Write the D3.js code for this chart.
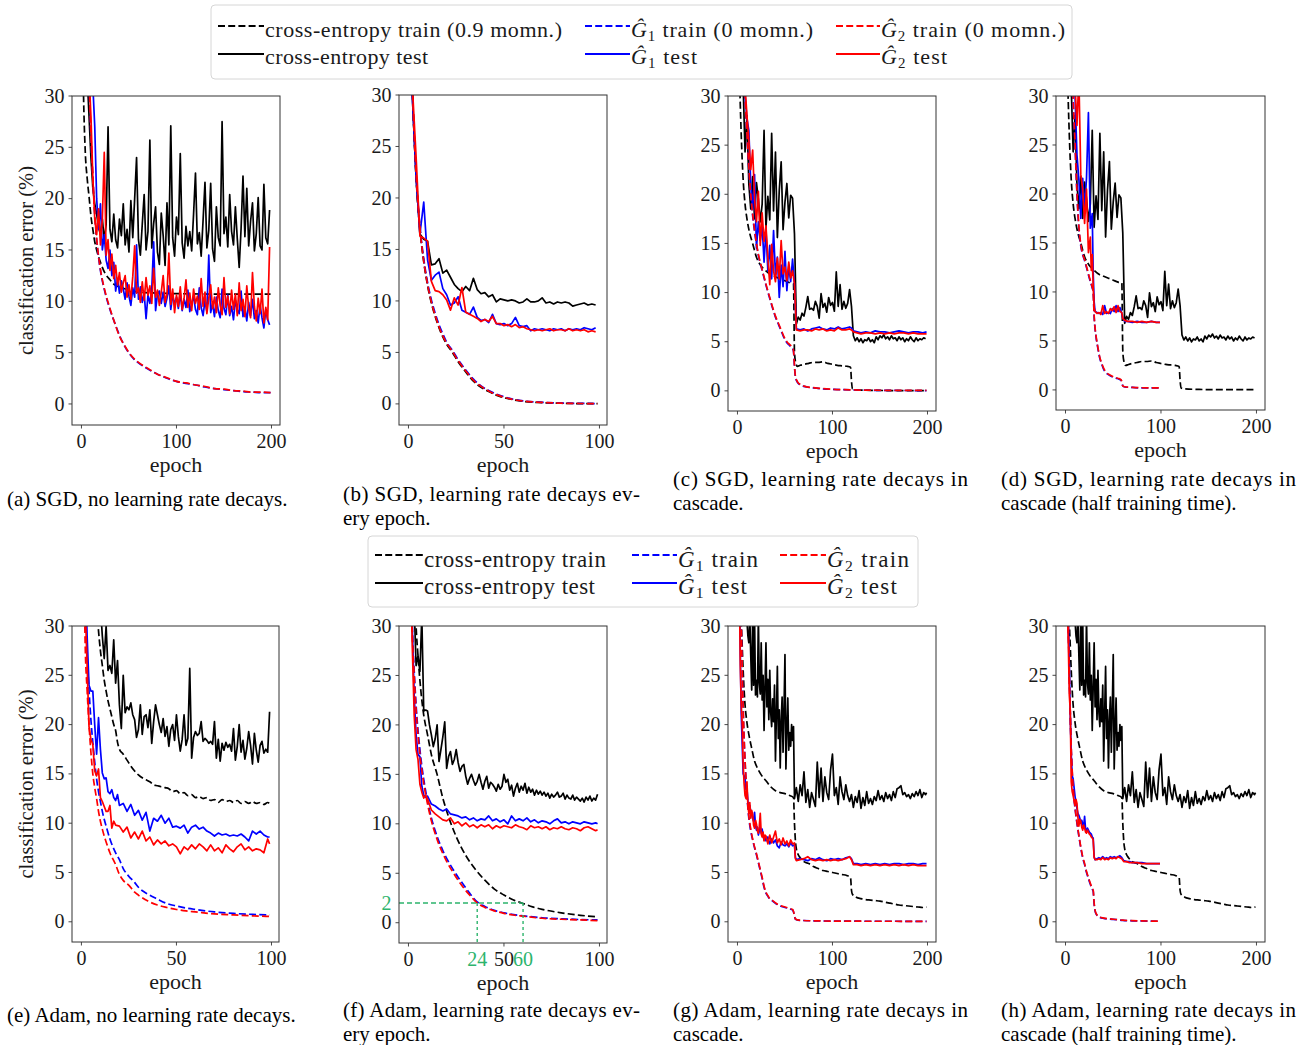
<!DOCTYPE html>
<html><head><meta charset="utf-8">
<script src="https://cdn.jsdelivr.net/npm/d3@7"></script>
<style>
body{margin:0;background:#fff}
svg text{font-family:"Liberation Serif","Times New Roman",serif}
</style></head><body>
<svg id="fig" width="1300" height="1045"></svg>
<script>
// epoch = index*2 for the densely read series
const every2 = vals => vals.map((v, i) => [i * 2, v]);

const YTICKS = [0, 5, 10, 15, 20, 25, 30];
const XTICKS_200 = [0, 100, 200];
const XTICKS_100 = [0, 50, 100];
const LEG1 = ['cross-entropy train (0.9 momn.)', 'cross-entropy test', ' train (0 momn.)', ' test'];
const LEG2 = ['cross-entropy train', 'cross-entropy test', ' train', ' test'];

// (a) SGD, no decay
const aCeTrain = [[0,45],[2,31],[4,24.6],[6,22],[8,20.2],[10,18.3],[12,17],[14,15.8],[16,15],[20,13.8],[25,12.7],[30,12.1],[35,11.6],[40,11.4],[50,11.1],[60,10.9],[80,10.8],[100,10.75],[150,10.7],[199,10.7]];
const aCeTest = every2([45,40,36,32,28, 24,21,19.5,18.5,17.2, 16.5,18,16,17.5,27, 17,15.8,18.5,16,15.2,
  18,16.4,19.5,15.5,17, 14.8,19.8,16.2,20,24, 16,14.5,17.5,20.4,15, 16.8,25.7,15.2,17.6,19.2,
  14.8,13.6,18.6,16.4,13.5, 19.6,15.5,27.1,16.2,14.4, 18.2,16.5,24.4,15.7,14.2, 17.3,15.4,16.8,14.9,18.5,
  22.5,15.6,16.7,14.4,17.9, 21.6,15.2,16.9,21.5,15.1, 13.9,19.2,16.2,15.4,27.5, 16.6,18.2,15.3,20.4,16.8,
  15.5,19.2,16.1,13.3,17.1, 22.2,16.3,21,15.4,17.8, 19.6,14.9,16.6,20.1,15.4, 15,21.4,16.2,15.6,18.9]);
const aG1Train = [[6,45],[8,32],[10,26],[12,22],[14,18.5],[16,16],[18,14.3],[20,13],[25,10.8],[30,9.2],[35,7.9],[40,6.7],[45,5.7],[50,4.95],[55,4.4],[60,4.0],[70,3.4],[80,2.9],[90,2.5],[100,2.2],[110,2.0],[120,1.85],[130,1.65],[140,1.5],[150,1.4],[160,1.3],[170,1.2],[180,1.15],[190,1.1],[199,1.1]];
const aG1Test = every2([60,55,50,45,40, 35,31,27,20,17, 19.5,15,16.5,14,13.2, 15,12.5,13.8,11,12.2,
  10.8,12,11.2,10.2,11.8, 10.5,9.6,11.3,10.4,15.5, 10.2,11.4,9.9,10.8,8.3, 10.6,9.8,11.2,15.8,9.1,
  10.7,11,9.8,10.9,9.5, 10.3,11.5,9.2,10.6,9.7, 10.4,9.3,10.8,9.1,10.2, 9.4,11.1,9.0,9.8,10.5,
  9.2,8.7,11.3,9.4,8.6, 10.1,9.0,14.5,8.9,9.8, 8.5,10.4,9.1,8.4,11.2, 9.3,8.7,10.6,8.6,9.5,
  8.2,10.1,9.2,8.8,11, 8.5,9.4,8.1,9.9,8.6, 10.2,8.3,9.1,7.9,9.6, 8.4,7.4,9.2,8.2,7.7]);
const aG2Train = [[6,45],[8,32.3],[10,26.2],[12,22.1],[14,18.6],[16,16.1],[18,14.4],[20,13.1],[25,10.9],[30,9.3],[35,7.9],[40,6.6],[45,5.75],[50,5.0],[55,4.45],[60,4.05],[70,3.45],[80,2.9],[90,2.55],[100,2.2],[110,2.05],[120,1.85],[130,1.7],[140,1.5],[150,1.45],[160,1.3],[170,1.25],[180,1.15],[190,1.15],[199,1.1]];
const aG2Test = every2([55,48,42,37,32, 28,22,18,16.5,19, 15.5,18,24.5,14.5,16, 13,14.6,12.2,13.5,11.6,
  12.8,10.9,11.8,12.5,10.4, 11.6,10.2,12.4,15.4,10.8, 11.3,9.9,11.9,10.1,12.3, 10.6,11.5,9.8,13.2,10.4,
  11.1,9.6,10.9,12.5,9.9, 10.7,14.7,9.7,11.2,8.9, 10.6,9.5,11.4,9.2,10.3, 12.1,9.4,10.8,9.1,11.2,
  9.8,10.5,9.2,12.2,9.5, 10.9,8.8,10.3,11.6,9.3, 10.4,8.9,11.3,9.6,8.7, 12.3,9.4,10.5,8.8,11.1,
  9.2,10.7,8.6,11.8,9.1, 10.2,8.5,11.5,9.3,8.4, 12.8,9.5,8.1,10.3,8.8, 11.2,7.9,9.4,8.2,15.3]);

// (b) SGD, decay every epoch
const bCeTrain = [[0,45],[2,31],[4,22],[6,17],[8,13.8],[10,11.5],[12,9.8],[14,8.5],[16,7.4],[18,6.5],[20,5.8],[23,5.0],[26,4.1],[30,3.1],[34,2.2],[38,1.6],[42,1.2],[46,0.85],[50,0.6],[55,0.4],[60,0.25],[70,0.12],[80,0.06],[90,0.03],[99,0.02]];
const bCeTest = every2([45,30,22,16.5,16, 15.8,13.5,13.6,14.1,12.7, 13,12.3,11.6,11.2,10.9, 11.4,11,12.2,11.1,10.7,
  10.8,10.4,10.6,9.9,10.2, 10.1,10.0,10.1,10.0,9.8, 9.9,10.2,9.9,9.9,10.0, 10.3,9.8,9.9,9.7,9.9,
  9.8,9.9,9.8,9.5,9.6, 9.7,9.8,9.6,9.7,9.6]);
const bG1Train = [[0,45],[2,31],[4,22.5],[6,17.3],[8,14.1],[10,11.8],[12,10.1],[14,8.8],[16,7.7],[18,6.8],[20,6.0],[23,5.2],[26,4.3],[30,3.3],[34,2.4],[38,1.75],[42,1.3],[46,0.95],[50,0.7],[55,0.45],[60,0.3],[70,0.15],[80,0.08],[90,0.05],[99,0.03]];
const bG1Test = every2([45,30,22,16.5,19.6, 14,12,12.5,12.8,11.2, 10.6,9.6,9.8,10.4,9.1, 8.9,8.7,9.4,8.4,8.1,
  8.2,7.9,8.7,7.8,7.7, 7.8,7.6,7.8,8.4,7.6, 7.5,7.6,7.1,7.3,7.2, 7.3,7.2,7.1,7.3,7.2,
  7.3,7.1,7.3,7.2,7.3, 7.2,7.4,7.3,7.2,7.4]);
const bG2Train = [[0,45],[2,31],[4,22.3],[6,17.1],[8,13.9],[10,11.6],[12,9.9],[14,8.6],[16,7.5],[18,6.6],[20,5.9],[23,5.1],[26,4.2],[30,3.2],[34,2.3],[38,1.7],[42,1.25],[46,0.9],[50,0.65],[55,0.42],[60,0.28],[70,0.14],[80,0.07],[90,0.04],[99,0.03]];
const bG2Test = every2([45,31,24,16.3,16.1, 15.8,11.9,11,10.9,10.6, 10.1,9.1,10.3,9.6,11.3, 8.9,8.7,8.5,8.3,8,
  8.2,8,8.5,7.8,7.8, 7.6,7.7,7.5,7.7,7.4, 7.5,7.3,7.2,7.1,7.2, 7.1,7.2,7.3,7.1,7.2,
  7.2,7.1,7.3,7.1,7.2, 7.1,7.2,7.0,7.1,7.0]);

// (c)/(d) SGD cascade: the cross-entropy runs are the same in both panels
const cdCeTrain = [[0,45],[2,33],[4,26],[6,21.5],[8,19],[10,17.5],[13,16],[16,15],[20,13.6],[25,12.7],[30,12.2],[35,11.8],[40,11.6],[45,11.4],[50,11.2],[55,11.0],[59,10.9],[60,4.0],[61,3.0],[63,2.5],[66,2.6],[70,2.7],[75,2.8],[80,2.9],[85,2.9],[90,2.95],[95,2.8],[100,2.7],[105,2.6],[110,2.55],[115,2.5],[119,2.4],[120,1.0],[121,0.2],[125,0.1],[140,0.05],[160,0.03],[199,0.02]];
const cdCeTest = every2([50,42,36,31,24.3, 28,21,18.5,21.8,17.5, 21.2,19.5,17.2,19,26.5, 16.6,19.8,17.4,26.2,18.3,
  24.3,15.6,20.4,23.3,16.4, 19.2,21.1,17.6,19.9,19.6, 16,6.8,7.5,7.2,7.9, 7.6,8.5,9.6,8.3,8.4,
  8.2,9.1,8.6,7.4,9.9, 8.5,8.9,8.0,9.5,8.7, 9.0,8.1,12.1,8.6,10.8, 8.3,9.1,8.4,8.9,10.3,
  8.6,5.6,5.1,5.4,5.0, 5.3,4.9,5.2,5.1,5.4, 5.0,5.2,4.9,5.5,5.2, 5.6,5.4,5.7,5.3,5.5,
  5.2,5.6,5.3,5.4,5.1, 5.5,5.2,5.4,5.0,5.3, 5.1,5.5,5.2,5.0,5.4, 5.1,5.3,5.2,5.4,5.3]);
const cG1Train = [[4,45],[6,36],[8,30],[10,26],[12,22.5],[14,19.8],[16,17.8],[18,16.2],[20,14.9],[22,13.8],[25,12.6],[28,11.5],[31,10.4],[34,9.4],[37,8.4],[40,7.5],[43,6.8],[46,6.1],[49,5.4],[52,4.9],[55,4.6],[58,4.3],[59,4.0],[60,2.5],[61,1.4],[63,0.9],[66,0.6],[70,0.45],[80,0.3],[90,0.2],[100,0.15],[120,0.1],[150,0.05],[199,0.03]];
const cG1Test = every2([60,50,42,35,30, 27.7,26.5,21,18.5,22, 14.5,17.2,15.3,16.8,13.1, 16.4,12.2,14.8,11.4,16.3,
  11.8,13.6,9.5,12.8,10.6, 14.2,10.2,12.7,11.1,13.4, 10.8]).concat([[62,6.3],[66,6.2],[70,6.3],[74,6.1],[78,6.3],[82,6.4],[86,6.5],[90,6.3],[94,6.2],[98,6.4],[102,6.3],[106,6.5],[110,6.3],[114,6.4],[118,6.5],[120,6.4],[122,6.1],[126,6.0],[130,5.9],[135,6.0],[140,5.9],[145,6.1],[150,6.0],[155,6.0],[160,5.9],[165,6.0],[170,6.1],[175,6.0],[180,5.9],[185,6.0],[190,6.0],[195,5.9],[199,6.0]]);
const cG2Train = [[4,45],[6,36],[8,30.2],[10,26.2],[12,22.7],[14,20],[16,18],[18,16.4],[20,15],[22,13.9],[25,12.7],[28,11.6],[31,10.5],[34,9.5],[37,8.5],[40,7.6],[43,6.9],[46,6.2],[49,5.5],[52,5.0],[55,4.7],[58,4.4],[59,4.1],[60,2.6],[61,1.5],[63,0.95],[66,0.65],[70,0.48],[80,0.32],[90,0.22],[100,0.16],[120,0.1],[150,0.06],[199,0.04]];
const cG2Test = every2([60,50,42,36,31, 28,25.5,22.5,24.5,19.6, 17.2,20.3,14.8,18.1,15.2, 16.8,13.6,10.8,14.9,12.2,
  11.1,13.5,11.4,15.3,11.9, 12.6,11.2,13.1,11.5,12.2, 10.9]).concat([[62,6.2],[66,6.1],[70,6.2],[74,6.2],[78,6.1],[82,6.3],[86,6.2],[90,6.3],[94,6.1],[98,6.2],[102,6.1],[106,6.4],[110,6.2],[114,6.2],[118,6.3],[120,6.2],[122,6.0],[126,5.9],[130,5.8],[135,5.9],[140,5.9],[145,5.8],[150,5.9],[155,5.8],[160,5.9],[165,5.8],[170,5.9],[175,5.9],[180,5.8],[185,5.9],[190,5.8],[195,5.8],[199,5.8]]);

// (d) half training time for the G losses
const dG1Train = [[4,45],[6,36],[8,29.5],[10,25],[12,20],[14,16.5],[16,14.7],[18,13.8],[20,13.2],[22,12.5],[25,11.4],[28,10.4],[29,10.0],[30,7.5],[31,6.2],[32,5.4],[34,4.2],[36,3.2],[38,2.6],[40,2.1],[43,1.7],[46,1.5],[50,1.3],[53,1.2],[56,1.1],[58,1.0],[59,0.8],[60,0.4],[62,0.3],[70,0.25],[80,0.2],[99,0.2]];
const dG1Test = [[0,60],[4,45],[8,34],[10,30],[12,24],[14,21.5],[16,17.5],[18,21.6],[20,18.5],[22,21.6],[24,28.3],[26,16.5],[28,18],[29,12],[30,9],[31,8.0],[33,7.9],[35,7.8],[37,7.9],[39,7.7],[41,8.6],[43,7.8],[45,7.9],[47,7.8],[49,8.3],[51,8.0],[53,8.6],[55,8.0],[57,8.4],[59,7.8],[60,7.3],[62,7.0],[65,7.0],[70,6.9],[75,7.0],[80,6.9],[85,6.9],[90,7.0],[95,6.9],[99,6.9]];
const dG2Train = [[4,45],[6,36],[8,29.8],[10,25.2],[12,20.2],[14,16.7],[16,14.9],[18,13.9],[20,13.3],[22,12.6],[25,11.5],[28,10.5],[29,10.1],[30,7.6],[31,6.3],[32,5.5],[34,4.3],[36,3.3],[38,2.7],[40,2.2],[43,1.75],[46,1.55],[50,1.35],[53,1.25],[56,1.15],[58,1.05],[59,0.85],[60,0.42],[62,0.32],[70,0.26],[80,0.22],[99,0.2]];
const dG2Test = [[0,60],[4,46],[8,35],[10,31],[12,27],[14,32],[16,22],[18,20.5],[20,17],[22,20.5],[24,14],[26,15.6],[27,12.2],[28,13.8],[29,10.5],[30,8.4],[31,8.0],[33,7.8],[35,7.9],[37,7.7],[39,8.6],[41,7.8],[43,8.0],[45,7.8],[47,8.3],[49,8.1],[51,8.5],[53,7.9],[55,8.6],[57,8.0],[59,7.9],[60,7.3],[62,7.1],[65,7.0],[70,7.0],[75,6.9],[80,7.0],[85,6.9],[90,7.0],[95,6.9],[99,6.9]];

// (e) Adam, no decay
const eCeTrain = [[0,70],[6,40],[8,32],[9,29.5],[10,27.5],[11,26],[12,24.5],[13,23.4],[14,22.4],[15,21.6],[16,20.8],[17,20],[18,19.4],[19,18.2],[20,17.5],[22,17.0],[24,16.4],[26,15.8],[28,15.3],[30,14.9],[32,14.6],[34,14.4],[36,14.2],[38,13.9],[40,13.8],[42,13.7],[44,13.6],[46,13.5],[48,13.2],[50,13.3],[52,13.0],[54,13.1],[56,12.8],[58,12.9],[60,12.6],[62,12.7],[64,12.5],[66,12.6],[68,12.3],[70,12.4],[72,12.1],[74,12.4],[76,12.2],[78,12.3],[80,12.1],[82,12.3],[84,12.0],[86,12.2],[88,12.0],[90,12.2],[92,12.0],[94,12.1],[96,11.9],[98,12.1],[99,12.0]];
const eCeTest = [[0,70],[4,50],[8,38],[10,32],[11,29],[12,26.7],[13,30],[14,25.5],[15,26],[16,25.2],[17,28.6],[18,24.2],[19,26.5],[20,22],[21,19.6],[22,25],[23,21.2],[24,21.8],[25,21.5],[26,22.2],[27,21],[28,20.5],[29,18.7],[30,19.5],[31,22],[32,19],[33,20.8],[34,21],[35,19.7],[36,21.5],[37,18.1],[38,20.3],[39,22],[40,21],[41,20],[42,19.2],[43,20.6],[44,18.8],[45,19.8],[46,17.8],[47,19.5],[48,20],[49,18.4],[50,21],[51,18.8],[52,17.3],[53,18.5],[54,21],[55,17.9],[56,18.6],[57,25.7],[58,16.6],[59,18.7],[60,19.3],[61,18.9],[62,19.1],[63,20.3],[64,18.3],[65,18.6],[66,18.4],[67,18.1],[68,18.3],[69,18.0],[70,20.3],[71,16.6],[72,18.5],[73,16.3],[74,18.1],[75,17.4],[76,18.2],[77,17.7],[78,18.0],[79,17.3],[80,19.6],[81,16.4],[82,17.8],[83,20],[84,17.2],[85,18.4],[86,16.5],[87,17.6],[88,19.3],[89,17.9],[90,16],[91,19.1],[92,17.4],[93,16.2],[94,17.9],[95,18.3],[96,17.1],[97,17.5],[98,17.2],[99,21.3]];
const eG1Train = [[0,60],[2,32],[3,27],[4,23.5],[5,20.5],[6,18.2],[7,16.2],[8,14.5],[9,13.2],[10,12.2],[11,11.2],[12,10.4],[13,9.7],[15,8.4],[18,7.0],[20,6.3],[22,5.4],[25,4.6],[28,4.0],[30,3.5],[35,2.8],[40,2.3],[45,1.85],[50,1.6],[55,1.4],[60,1.25],[70,1.0],[80,0.85],[90,0.75],[99,0.7]];
const eG1Test = [[0,60],[2,36],[3,29],[4,24],[5,23.4],[6,23.4],[7,20],[8,17],[9,20.7],[10,17.5],[11,15.1],[12,14.5],[13,14.6],[14,13.2],[15,13],[16,13.4],[17,12.6],[18,12.3],[19,12.9],[20,11.8],[22,12],[24,11.2],[26,11.9],[28,10.8],[30,11.3],[32,10.3],[34,11.1],[36,9.2],[38,10.5],[40,10.2],[42,10.8],[44,10.0],[46,10.5],[48,9.6],[50,9.7],[52,9.5],[54,9.8],[56,9.0],[58,9.6],[60,9.8],[62,9.4],[64,9.6],[66,9.2],[68,9.0],[70,8.7],[72,9.0],[74,8.8],[76,8.9],[78,8.7],[80,8.8],[82,8.7],[84,8.9],[86,8.6],[88,8.2],[90,9.2],[92,8.9],[94,9.2],[96,8.8],[98,8.6],[99,8.6]];
const eG2Train = [[0,60],[2,28],[3,23.5],[4,20],[5,17.2],[6,15],[7,13.6],[8,12.5],[9,11.2],[10,10.2],[11,9.4],[12,8.7],[13,8.1],[15,7.0],[18,5.8],[20,4.8],[22,4.2],[25,3.7],[28,3.0],[30,2.7],[35,2.1],[40,1.7],[45,1.45],[50,1.25],[55,1.1],[60,1.0],[70,0.8],[80,0.7],[90,0.6],[99,0.55]];
const eG2Test = [[0,60],[2,32],[3,26],[4,19.8],[5,18.5],[6,18],[7,15.3],[8,14.8],[9,15.5],[10,12.6],[11,12.2],[12,11.7],[13,11.2],[14,11.2],[15,11.8],[16,9.5],[17,10.2],[18,9.8],[20,9.7],[22,9.1],[24,9.6],[26,8.5],[28,9.1],[30,8.4],[32,9.2],[34,8.2],[36,8.6],[38,7.8],[40,8.3],[42,7.9],[44,8.2],[46,7.7],[48,7.9],[50,7.6],[52,6.9],[54,7.6],[56,7.3],[58,7.8],[60,7.4],[62,7.9],[64,7.6],[66,7.2],[68,7.8],[70,7.2],[72,7.5],[74,7.0],[76,7.8],[78,7.4],[80,7.1],[82,7.6],[84,7.9],[86,7.3],[88,7.6],[90,7.2],[92,7.4],[94,7.3],[96,7.0],[98,8.4],[99,7.9]];

// (f) Adam, decay every epoch
const fCeTrain = [[0,70],[2,45],[3,36],[4,30],[5,27],[6,24.5],[7,22.5],[8,21],[10,19],[12,17],[15,15],[18,12.6],[20,11.3],[25,8.7],[30,6.8],[35,5.4],[40,4.3],[45,3.4],[50,2.8],[55,2.3],[60,1.95],[65,1.6],[70,1.35],[80,1.0],[90,0.75],[99,0.6]];
const fCeTest = [[0,70],[2,40],[3,32],[4,26],[5,27],[6,25.4],[7,31],[8,21.4],[9,21.5],[10,21.4],[11,20],[12,19],[13,17.8],[14,18.6],[15,20],[16,16.3],[17,17.5],[18,18.8],[19,20.3],[20,15.6],[21,16.8],[22,17.3],[23,16],[24,16.5],[25,17.5],[26,16.2],[27,15.3],[28,15.8],[29,16],[30,14.8],[31,14],[32,14.6],[33,15],[34,14.4],[35,13.9],[36,14.3],[37,15],[38,14.2],[39,13.5],[40,14.3],[41,14.8],[42,13.6],[43,14.2],[44,14],[45,13.7],[46,13.3],[47,14],[48,13.5],[49,13.8],[50,15],[51,14.2],[52,14.5],[53,13.4],[54,13.9],[55,12.8],[56,13.6],[57,14.1],[58,13.2],[59,13.8],[60,13.4],[61,14.1],[62,13.1],[63,13.7],[64,13.2],[65,13.5],[66,12.9],[67,13.4],[68,13],[69,13.3],[70,12.9],[71,13.2],[72,12.8],[73,13.1],[74,12.6],[75,13],[76,12.7],[77,12.9],[78,13.2],[79,12.7],[80,12.8],[81,13.1],[82,12.5],[83,12.9],[84,12.6],[85,12.5],[86,12.9],[87,12.4],[88,12.7],[89,12.5],[90,12.3],[91,12.6],[92,12.2],[93,12.7],[94,12.4],[95,12.8],[96,12.3],[97,12.6],[98,12.4],[99,13.0]];
const fG1Train = [[0,60],[1,40],[2,30],[3,25.5],[4,22],[6,17.5],[8,14.5],[10,12.3],[12,10.6],[14,9.3],[16,8.2],[18,7.3],[20,6.5],[23,5.5],[26,4.6],[29,3.8],[32,3.0],[36,2.1],[40,1.65],[45,1.25],[50,1.0],[55,0.82],[60,0.7],[70,0.5],[80,0.4],[90,0.32],[99,0.28]];
const fG1Test = [[0,60],[1,40],[2,30],[3,23],[4,19],[5,17],[6,16.8],[7,13.8],[8,12.9],[9,12.7],[10,12.8],[12,12],[14,11.8],[16,11.5],[18,11.3],[20,11.5],[22,11.0],[24,10.9],[26,10.8],[28,10.6],[30,10.7],[32,10.4],[34,10.6],[36,10.3],[38,10.5],[40,10.4],[42,10.8],[44,10.3],[46,10.5],[48,10.2],[50,10.4],[52,10.0],[54,10.8],[56,10.3],[58,10.5],[60,10.3],[62,10.6],[64,10.2],[66,10.4],[68,10.1],[70,10.3],[72,10.2],[74,10.0],[76,10.3],[78,10.5],[80,10.1],[82,10.2],[84,10.0],[86,10.2],[88,10.1],[90,10.0],[92,10.2],[94,10.1],[96,10.0],[98,10.1],[99,10.0]];
const fG2Train = [[0,60],[1,40],[2,29.5],[3,25],[4,21.5],[6,17],[8,14.1],[10,12],[12,10.3],[14,9.0],[16,7.9],[18,7.0],[20,6.2],[23,5.2],[26,4.3],[29,3.5],[32,2.8],[36,2.0],[40,1.55],[45,1.2],[50,0.95],[55,0.78],[60,0.66],[70,0.45],[80,0.35],[90,0.28],[99,0.22]];
const fG2Test = [[0,60],[1,38],[2,28],[3,21],[4,17.5],[5,16.5],[6,14],[7,13.2],[8,12.6],[9,12.9],[10,12.5],[12,11.4],[14,11.0],[16,10.7],[18,10.4],[20,10.3],[22,10.6],[24,10.0],[26,10.2],[28,9.8],[30,10.1],[32,9.7],[34,9.9],[36,9.6],[38,9.9],[40,9.7],[42,9.9],[44,9.5],[46,9.8],[48,9.6],[50,9.8],[52,9.7],[54,9.6],[56,9.9],[58,9.7],[60,9.6],[62,9.4],[64,9.8],[66,9.6],[68,9.7],[70,9.5],[72,9.7],[74,9.4],[76,9.6],[78,9.5],[80,9.7],[82,9.5],[84,9.4],[86,9.6],[88,9.5],[90,9.3],[92,9.6],[94,9.7],[96,9.5],[98,9.3],[99,9.4]];
// green guide in (f): error level 2, where G and cross-entropy train reach it
const fGuideLevel = 2;
const fGuideEpochs = [36, 60];
const fGuideLabels = ['24', '60'];

// (g)/(h) Adam cascade: shared cross-entropy runs
const ghCeTrain = [[0,70],[3,40],[4,31],[5,28],[6,25.5],[7,23.5],[8,22],[10,20.2],[13,18.5],[15,17.6],[18,16.3],[20,15.8],[25,14.9],[30,14.3],[35,13.7],[40,13.3],[45,13.1],[50,13.0],[55,12.8],[59,12.6],[60,10],[61,8.2],[62,7.4],[64,6.8],[66,6.5],[70,6.1],[75,5.9],[80,5.6],[85,5.4],[90,5.2],[95,5.1],[100,5.0],[105,4.9],[110,4.8],[115,4.7],[119,4.5],[120,3.2],[121,2.8],[125,2.5],[130,2.35],[135,2.25],[140,2.2],[145,2.15],[150,2.1],[155,2.0],[160,1.9],[165,1.8],[170,1.7],[175,1.65],[180,1.6],[185,1.55],[190,1.5],[195,1.45],[199,1.5]];
const ghCeTest = [[0,80],[4,50],[6,40],[8,34],[10,30.5],[11,29],[12,28.3],[13,31],[14,27],[15,23.5],[16,31],[17,24],[18,31],[19,23],[20,24.5],[21,22.8],[22,31],[23,24.2],[24,23.1],[25,28.3],[26,22.5],[27,25],[28,19.4],[29,23.8],[30,28.3],[31,21.8],[32,24.6],[33,20.5],[34,25.5],[35,21.2],[36,19.8],[37,22.6],[38,20.3],[39,24],[40,16.3],[41,21],[42,25.9],[43,18.6],[44,21.5],[45,15.6],[46,20.4],[47,22.8],[48,17.2],[49,21.6],[50,27.1],[51,15.5],[52,19.6],[53,22.7],[54,17.4],[55,19.2],[56,17.8],[57,20],[58,18.4],[59,19.8],[60,12.5],[62,13.6],[64,12.2],[66,13.9],[68,12.8],[70,15.2],[72,12.1],[74,13.4],[76,11.6],[78,13.1],[80,12.4],[82,11.7],[84,16.2],[86,12.6],[88,15.6],[90,12.2],[92,14.7],[94,13.1],[96,12.4],[98,15.4],[100,17],[102,12.8],[104,13.6],[106,11.9],[108,14.7],[110,13.2],[112,12.4],[114,13.9],[116,12.8],[118,12.2],[120,12.9],[122,11.6],[124,12.7],[126,12.1],[128,13.3],[130,11.5],[132,12.6],[134,11.8],[136,13.2],[138,12.0],[140,12.5],[142,11.9],[144,12.7],[146,12.3],[148,13.3],[150,12.4],[152,12.8],[154,12.2],[156,13.1],[158,12.5],[160,12.9],[162,12.3],[164,13.2],[166,12.6],[168,13.5],[170,13.6],[172,13.8],[174,12.9],[176,13.1],[178,12.7],[180,12.9],[182,12.5],[184,13.0],[186,12.7],[188,13.2],[190,12.8],[192,13.4],[194,12.6],[196,13.1],[198,12.9],[199,13.1]];
const gG1Train = [[3,40],[4,30],[5,25.5],[6,21.5],[7,18.5],[8,16.2],[9,14.3],[10,12.8],[12,10.5],[14,9.2],[16,8.3],[18,7.5],[20,6.8],[22,6.0],[24,5.2],[26,4.4],[28,3.5],[30,2.9],[32,2.6],[34,2.3],[37,2.1],[41,1.8],[45,1.6],[50,1.45],[55,1.3],[58,1.2],[59,1.0],[60,0.6],[61,0.25],[65,0.15],[80,0.1],[120,0.06],[199,0.05]];
const gG1Test = [[0,60],[2,35],[3,27],[4,21],[5,18],[6,15],[7,14.8],[8,14.5],[9,13.4],[10,13.5],[11,12.2],[12,11.5],[13,11.8],[14,11.2],[15,10.9],[16,10.5],[17,10.2],[18,11.1],[19,9.8],[20,9.3],[21,9.6],[22,8.8],[23,9.2],[24,9.6],[25,9.0],[26,9.4],[27,8.7],[28,8.3],[29,8.7],[30,8.2],[32,8.6],[34,7.9],[36,8.4],[38,8.0],[40,8.3],[42,7.7],[44,7.5],[46,8.1],[48,7.8],[50,7.7],[52,7.9],[54,7.6],[56,8.0],[58,7.7],[60,7.8],[61,6.5],[62,6.3],[66,6.4],[70,6.3],[74,6.2],[78,6.4],[82,6.3],[86,6.5],[90,6.3],[94,6.2],[98,6.4],[102,6.3],[106,6.4],[110,6.3],[114,6.5],[118,6.6],[120,6.4],[122,5.9],[126,5.9],[130,5.8],[135,5.9],[140,5.8],[145,5.9],[150,5.8],[155,5.9],[160,5.8],[165,5.9],[170,5.9],[175,5.8],[180,5.9],[185,5.9],[190,5.8],[195,5.9],[199,5.9]];
const gG2Train = [[3,40],[4,30.5],[5,25.8],[6,21.8],[7,18.7],[8,16.4],[9,14.5],[10,13],[12,10.7],[14,9.4],[16,8.4],[18,7.6],[20,6.9],[22,6.1],[24,5.3],[26,4.5],[28,3.6],[30,3.0],[32,2.65],[34,2.35],[37,2.15],[41,1.85],[45,1.65],[50,1.5],[55,1.35],[58,1.25],[59,1.05],[60,0.65],[61,0.28],[65,0.16],[80,0.1],[120,0.06],[199,0.05]];
const gG2Test = [[0,60],[2,34],[3,26],[4,22],[5,20],[6,16],[7,14],[8,12.8],[9,12.5],[10,14.2],[11,11.8],[12,11.0],[13,12.1],[14,10.5],[15,11.3],[16,10.9],[17,9.8],[18,9.5],[19,10.3],[20,9.9],[21,9.2],[22,9.0],[23,9.7],[24,11.0],[25,8.9],[26,8.6],[27,9.1],[28,8.2],[29,8.8],[30,8.7],[32,7.9],[34,8.8],[36,8.0],[38,8.6],[40,9.2],[42,8.0],[44,8.4],[46,7.8],[48,8.5],[50,7.9],[52,8.2],[54,7.7],[56,8.3],[58,7.9],[60,8.0],[61,6.4],[62,6.2],[66,6.3],[70,6.4],[74,6.6],[78,6.3],[82,6.2],[86,6.3],[90,6.2],[94,6.3],[98,6.2],[102,6.3],[106,6.2],[110,6.3],[114,6.4],[118,6.6],[120,6.3],[122,5.8],[126,5.8],[130,5.7],[135,5.8],[140,5.7],[145,5.8],[150,5.7],[155,5.8],[160,5.7],[165,5.8],[170,5.7],[175,5.8],[180,5.7],[185,5.8],[190,5.7],[195,5.7],[199,5.7]];

// (h) half training time
const hG1Train = [[0,60],[2,38],[3,30],[4,25],[5,21],[6,17.5],[7,15.2],[8,13.5],[9,12.4],[10,11.5],[12,10],[14,8.7],[16,7.5],[18,6.5],[20,5.8],[22,5.0],[24,4.4],[26,3.8],[28,3.3],[29,3.1],[30,1.8],[31,1.1],[32,0.8],[35,0.5],[40,0.35],[50,0.25],[60,0.15],[70,0.1],[80,0.08],[99,0.05]];
const hG1Test = [[0,60],[2,34],[3,30],[4,26],[5,21],[6,17],[7,14.8],[8,14.5],[9,13.6],[10,12.7],[11,12.2],[12,11.5],[13,11.0],[14,10.8],[15,10.5],[16,10.0],[17,10.3],[18,9.9],[19,9.6],[20,10.7],[21,9.4],[22,9.2],[23,9.5],[24,9.3],[25,9.1],[26,9.0],[27,8.9],[28,8.6],[29,8.5],[30,6.6],[31,6.3],[33,6.4],[35,6.5],[37,6.4],[39,6.6],[41,6.4],[43,6.5],[45,6.4],[47,6.6],[49,6.5],[51,6.6],[53,6.5],[55,6.6],[57,6.7],[59,6.5],[61,6.2],[64,6.1],[67,6.1],[70,6.0],[75,6.0],[80,6.0],[85,5.9],[90,5.9],[95,5.9],[99,5.9]];
const hG2Train = [[0,60],[2,38],[3,30.3],[4,25.3],[5,21.2],[6,17.7],[7,15.4],[8,13.7],[9,12.6],[10,11.6],[12,10.1],[14,8.8],[16,7.6],[18,6.6],[20,5.9],[22,5.1],[24,4.5],[26,3.9],[28,3.4],[29,3.2],[30,1.9],[31,1.15],[32,0.85],[35,0.52],[40,0.37],[50,0.26],[60,0.16],[70,0.11],[80,0.09],[99,0.06]];
const hG2Test = [[0,60],[2,32],[3,28],[4,23],[5,21.4],[6,14.2],[7,13.2],[8,12.8],[9,12.3],[10,11.8],[11,12.4],[12,12.0],[13,10.6],[14,9.7],[15,10.4],[16,10.2],[17,9.6],[18,9.3],[19,9.8],[20,9.5],[21,9.1],[22,9.0],[23,9.3],[24,9.1],[25,8.9],[26,8.8],[27,8.6],[28,8.5],[29,8.3],[30,6.5],[31,6.3],[33,6.3],[35,6.4],[37,6.3],[39,6.5],[41,6.3],[43,6.4],[45,6.3],[47,6.5],[49,6.4],[51,6.5],[53,6.4],[55,6.6],[57,6.5],[59,6.4],[61,6.1],[64,6.1],[67,6.0],[70,6.0],[75,6.0],[80,5.9],[85,5.9],[90,5.9],[95,5.9],[99,5.9]];

const CAPTIONS = {
  a: ['(a) SGD, no learning rate decays.'],
  b: ['(b) SGD, learning rate decays ev-', 'ery epoch.'],
  c: ['(c) SGD, learning rate decays in', 'cascade.'],
  d: ['(d) SGD, learning rate decays in', 'cascade (half training time).'],
  e: ['(e) Adam, no learning rate decays.'],
  f: ['(f) Adam, learning rate decays ev-', 'ery epoch.'],
  g: ['(g) Adam, learning rate decays in', 'cascade.'],
  h: ['(h) Adam, learning rate decays in', 'cascade (half training time).']
};

const STYLE = {
  ceTrain: {color: '#000', dash: '7,3.2'},
  ceTest:  {color: '#000', dash: null},
  g1Train: {color: '#0000ff', dash: '7,3.2'},
  g1Test:  {color: '#0000ff', dash: null},
  g2Train: {color: '#ff0000', dash: '7,3.2'},
  g2Test:  {color: '#ff0000', dash: null}
};
const ORDER = ['ceTrain', 'ceTest', 'g1Train', 'g1Test', 'g2Train', 'g2Test'];

const panels = [
  {key: 'a', box: [72, 280, 96, 425], n: 200, ylabel: true, cap: [7, [506]],
   s: {ceTrain: aCeTrain, ceTest: aCeTest, g1Train: aG1Train, g1Test: aG1Test, g2Train: aG2Train, g2Test: aG2Test}},
  {key: 'b', box: [399, 607, 95, 425], n: 100, cap: [343, [501, 525], 297],
   s: {ceTrain: bCeTrain, ceTest: bCeTest, g1Train: bG1Train, g1Test: bG1Test, g2Train: bG2Train, g2Test: bG2Test}},
  {key: 'c', box: [728, 936, 96, 411], n: 200, cap: [673, [486, 510], 295],
   s: {ceTrain: cdCeTrain, ceTest: cdCeTest, g1Train: cG1Train, g1Test: cG1Test, g2Train: cG2Train, g2Test: cG2Test}},
  {key: 'd', box: [1056, 1265, 96, 410], n: 200, cap: [1001, [486, 510], 295],
   s: {ceTrain: cdCeTrain, ceTest: cdCeTest, g1Train: dG1Train, g1Test: dG1Test, g2Train: dG2Train, g2Test: dG2Test}},
  {key: 'e', box: [72, 279, 626, 942], n: 100, ylabel: true, cap: [7, [1022]],
   s: {ceTrain: eCeTrain, ceTest: eCeTest, g1Train: eG1Train, g1Test: eG1Test, g2Train: eG2Train, g2Test: eG2Test}},
  {key: 'f', box: [399, 607, 626, 943], n: 100, cap: [343, [1017, 1041], 297],
   s: {ceTrain: fCeTrain, ceTest: fCeTest, g1Train: fG1Train, g1Test: fG1Test, g2Train: fG2Train, g2Test: fG2Test}},
  {key: 'g', box: [728, 936, 626, 942], n: 200, cap: [673, [1017, 1041], 295],
   s: {ceTrain: ghCeTrain, ceTest: ghCeTest, g1Train: gG1Train, g1Test: gG1Test, g2Train: gG2Train, g2Test: gG2Test}},
  {key: 'h', box: [1056, 1265, 626, 942], n: 200, cap: [1001, [1017, 1041], 295],
   s: {ceTrain: ghCeTrain, ceTest: ghCeTest, g1Train: hG1Train, g1Test: hG1Test, g2Train: hG2Train, g2Test: hG2Test}}
];

const svg = d3.select('#fig');
const TXT = '#1a1a1a';

panels.forEach(p => {
  const [l, r, t, b] = p.box;
  const last = p.n - 1;
  const pad = last * 0.05;
  const x = d3.scaleLinear().domain([-pad, last + pad]).range([l, r]);
  const y = d3.scaleLinear().domain([-2.05, 30]).range([b, t]);
  const g = svg.append('g');

  g.append('clipPath').attr('id', 'clip-' + p.key)
    .append('rect').attr('x', l).attr('y', t).attr('width', r - l).attr('height', b - t);

  const plot = g.append('g').attr('clip-path', `url(#clip-${p.key})`);
  ORDER.forEach(k => {
    const st = STYLE[k];
    const gen = d3.line().x(d => x(d[0])).y(d => y(d[1]))
      .curve(k.endsWith('Train') ? d3.curveMonotoneX : d3.curveLinear);
    plot.append('path').datum(p.s[k])
      .attr('d', gen)
      .attr('fill', 'none')
      .attr('stroke', st.color)
      .attr('stroke-width', 1.7)
      .attr('stroke-linejoin', 'round')
      .attr('stroke-dasharray', st.dash);
  });

  if (p.key === 'f') {
    const green = '#2db46c';
    const xEnd = fGuideEpochs[fGuideEpochs.length - 1];
    plot.append('line')
      .attr('x1', l).attr('x2', x(xEnd)).attr('y1', y(fGuideLevel)).attr('y2', y(fGuideLevel))
      .attr('stroke', green).attr('stroke-width', 1.4).attr('stroke-dasharray', '5,3');
    fGuideEpochs.forEach((e, i) => {
      plot.append('line')
        .attr('x1', x(e)).attr('x2', x(e)).attr('y1', y(fGuideLevel)).attr('y2', b)
        .attr('stroke', green).attr('stroke-width', 1.4).attr('stroke-dasharray', '3,3');
      g.append('text').attr('x', x(e)).attr('y', b + 23)
        .attr('text-anchor', 'middle').attr('font-size', 20).attr('fill', green)
        .text(fGuideLabels[i]);
    });
    g.append('text').attr('x', l - 7.5).attr('y', y(fGuideLevel)).attr('dy', '0.33em')
      .attr('text-anchor', 'end').attr('font-size', 20).attr('fill', green).text(String(fGuideLevel));
  }

  // frame
  g.append('rect').attr('x', l).attr('y', t).attr('width', r - l).attr('height', b - t)
    .attr('fill', 'none').attr('stroke', '#333').attr('stroke-width', 1);

  // y ticks
  YTICKS.forEach(v => {
    g.append('line').attr('x1', l - 3.5).attr('x2', l).attr('y1', y(v)).attr('y2', y(v))
      .attr('stroke', '#333').attr('stroke-width', 0.9);
    g.append('text').attr('x', l - 7.5).attr('y', y(v)).attr('dy', '0.33em')
      .attr('text-anchor', 'end').attr('font-size', 20).attr('fill', TXT).text(v);
  });
  // x ticks
  (p.n === 200 ? XTICKS_200 : XTICKS_100).forEach(v => {
    g.append('line').attr('x1', x(v)).attr('x2', x(v)).attr('y1', b).attr('y2', b + 3.5)
      .attr('stroke', '#333').attr('stroke-width', 0.9);
    g.append('text').attr('x', x(v)).attr('y', b + 23)
      .attr('text-anchor', 'middle').attr('font-size', 20).attr('fill', TXT).text(v);
  });

  g.append('text').attr('x', (l + r) / 2).attr('y', b + 47)
    .attr('text-anchor', 'middle').attr('font-size', 22).attr('fill', TXT).text('epoch');

  if (p.ylabel) {
    g.append('text').attr('transform', `translate(33,${(t + b) / 2}) rotate(-90)`)
      .attr('text-anchor', 'middle').attr('font-size', 20.5).attr('fill', TXT)
      .text('classification error (%)');
  }

  const [cx, cys, just] = p.cap;
  CAPTIONS[p.key].forEach((line, i) => {
    const tx = g.append('text').attr('x', cx).attr('y', cys[i])
      .attr('font-size', 21).attr('fill', '#000').text(line);
    if (i === 0 && just) tx.attr('textLength', just).attr('lengthAdjust', 'spacing');
  });
});

// legends
function legend(box, fs, rows, cols, labels, widths) {
  const g = svg.append('g');
  g.append('rect').attr('x', box[0]).attr('y', box[1]).attr('width', box[2]).attr('height', box[3])
    .attr('rx', 4).attr('fill', '#fff').attr('stroke', '#d6d6d6').attr('stroke-width', 1);
  const keys = [['ceTrain', 'ceTest'], ['g1Train', 'g1Test'], ['g2Train', 'g2Test']];
  cols.forEach((c, ci) => {
    rows.forEach((rw, ri) => {
      const st = STYLE[keys[ci][ri]];
      g.append('line').attr('x1', c[0]).attr('x2', c[1]).attr('y1', rw[0]).attr('y2', rw[0])
        .attr('stroke', st.color).attr('stroke-width', 1.8).attr('stroke-dasharray', st.dash);
      const t = g.append('text').attr('x', c[1] + 1).attr('y', rw[1]).attr('font-size', fs).attr('fill', TXT);
      if (ci === 0) {
        t.text(labels[ri]);
      } else {
        t.append('tspan').attr('font-style', 'italic').text('Ĝ');
        t.append('tspan').attr('font-size', fs * 0.68).attr('dy', 4).text(String(ci));
        t.append('tspan').attr('dy', -4).text(labels[2 + ri]);
      }
      t.attr('textLength', widths[ci][ri]).attr('lengthAdjust', 'spacing');
    });
  });
}

legend([211, 5, 861, 74], 22, [[26, 37], [54, 64]], [[218, 264], [585, 630], [836, 880]], LEG1,
  [[297, 163], [182, 66], [184, 66]]);
legend([368, 536, 550, 71], 23, [[555, 567], [583, 594]], [[375, 423], [632, 677], [780, 826]], LEG2,
  [[182, 171], [80, 69], [82, 70]]);
</script></body></html>
